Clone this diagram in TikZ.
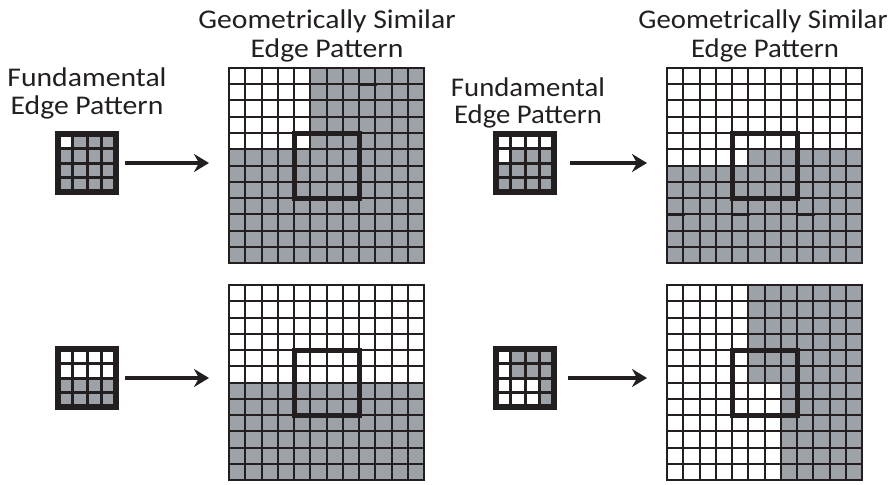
\documentclass[tikz,border=0pt]{standalone}
\usepackage{fontspec}
\setmainfont{Carlito}
\usetikzlibrary{arrows.meta}
\definecolor{cellgray}{RGB}{157,162,168}
\definecolor{ink}{RGB}{35,31,32}
\tikzset{
  gline/.style={draw=ink, line width=2pt, line cap=rect},
  gborder/.style={draw=ink, line width=2.8pt, line join=miter},
  thickline/.style={draw=ink, line width=2.6pt, line cap=rect},
  motif/.style={draw=ink, line width=5pt, line join=miter},
  sline/.style={draw=ink, line width=3pt, line cap=rect},
  sborder/.style={draw=ink, line width=6pt, line join=miter},
  txt/.style={font=\fontsize{27}{32}\selectfont, text=ink, inner sep=0pt, anchor=base},
  holder/.style={inner sep=0pt, outer sep=0pt, minimum size=#1, draw=none},
  arr/.style={draw=ink, line width=4pt, -{Stealth[length=15pt,width=18pt,inset=5pt]}},
}
\newcommand{\wide}[1]{\scalebox{1.1}[1]{#1}}
\newcommand{\wider}[1]{\scalebox{1.065}[1]{#1}}
% big grid: x0, y0 (top-left)
\newcommand{\biggridlines}[2]{%
  \foreach \i in {0,...,12} {
    \draw[gline] (#1+\i*16.25, #2) -- (#1+\i*16.25, #2+195);
    \draw[gline] (#1, #2+\i*16.25) -- (#1+195, #2+\i*16.25);
  }
  \draw[gborder] (#1,#2) rectangle (#1+195,#2+195);
  \draw[motif] (#1+65,#2+65) rectangle (#1+130,#2+130);
}
% small grid: x0, y0 (top-left), side 58
\newcommand{\smallgridlines}[2]{%
  \foreach \i in {1,2,3} {
    \draw[sline] (#1+\i*14.5, #2) -- (#1+\i*14.5, #2+58);
    \draw[sline] (#1, #2+\i*14.5) -- (#1+58, #2+\i*14.5);
  }
  \draw[sborder] (#1,#2) rectangle (#1+58,#2+58);
}
\begin{document}
\begin{tikzpicture}[x=1pt,y=-1pt]
\useasboundingbox (0,0) rectangle (890,484);

% ---------- labels ----------
\node[txt] (t1a) at (327,29) {\wide{Geometrically Similar}};
\node[txt] (t1b) at (327,58) {\wide{Edge Pattern}};
\node[txt] (t2a) at (763,29) {\wider{Geometrically Similar}};
\node[txt] (t2b) at (765,58) {\wider{Edge Pattern}};
\node[txt] (f1a) at (87,87) {\wide{Fundamental}};
\node[txt] (f1b) at (87,114) {\wide{Edge Pattern}};
\node[txt] (f2a) at (528,97) {\wider{Fundamental}};
\node[txt] (f2b) at (528,124) {\wider{Edge Pattern}};

% ---------- small patterns ----------
\fill[cellgray] (58,134) rectangle (116,192);
\fill[white] (58,134) rectangle (72.5,148.5);
\smallgridlines{58}{134}
\node[holder=64pt] (s1) at (87,163) {};

\fill[cellgray] (58,349) rectangle (116,407);
\fill[white] (58,349) rectangle (116,378);
\smallgridlines{58}{349}
\node[holder=64pt] (s3) at (87,378) {};

\fill[cellgray] (496,134) rectangle (554,192);
\fill[white] (496,134) rectangle (554,148.5);
\fill[white] (496,148.5) rectangle (510.5,163);
\smallgridlines{496}{134}
\node[holder=64pt] (s2) at (525,163) {};

\fill[white] (496,349) rectangle (554,407);
\fill[cellgray] (510.5,349) rectangle (554,378);
\fill[cellgray] (539.5,378) rectangle (554,407);
\smallgridlines{496}{349}
\node[holder=64pt] (s4) at (525,378) {};

% ---------- big grids ----------
\fill[cellgray] (229,68) rectangle (424,263);
\fill[white] (229,68) rectangle (310.25,149.25);
\biggridlines{229}{68}
\draw[thickline] (359,68) -- (359,263);
\draw[thickline] (359,84.25) -- (375.25,84.25);
\node[holder=195pt] (g1) at (326.5,165.5) {};

\fill[cellgray] (667,68) rectangle (862,263);
\fill[white] (667,68) rectangle (862,149.25);
\fill[white] (667,149.25) rectangle (748.25,165.5);
\biggridlines{667}{68}
\foreach \c in {0,4,8} {
  \draw[thickline] (667+\c*16.25,214.25) -- (667+\c*16.25+16.25,214.25);
}
\node[holder=195pt] (g2) at (764.5,165.5) {};

\fill[cellgray] (229,285) rectangle (424,480);
\fill[white] (229,285) rectangle (424,382.5);
\biggridlines{229}{285}
\draw[thickline] (359,285) -- (359,480);
\node[holder=195pt] (g3) at (326.5,382.5) {};

\fill[cellgray] (667,285) rectangle (862,480);
\fill[white] (667,285) rectangle (748.25,382.5);
\fill[white] (667,382.5) rectangle (780.75,480);
\biggridlines{667}{285}
\node[holder=195pt] (g4) at (764.5,382.5) {};

% ---------- arrows ----------
\coordinate (e1) at (g1.west |- s1.east);
\coordinate (e2) at (g2.west |- s2.east);
\coordinate (e3) at (g3.west |- s3.east);
\coordinate (e4) at (g4.west |- s4.east);
\draw[arr, shorten <=6pt, shorten >=20pt] (s1.east) -- (e1);
\draw[arr, shorten <=13pt, shorten >=20pt] (s2.east) -- (e2);
\draw[arr, shorten <=6pt, shorten >=20pt] (s3.east) -- (e3);
\draw[arr, shorten <=11pt, shorten >=20pt] (s4.east) -- (e4);
\end{tikzpicture}
\end{document}
